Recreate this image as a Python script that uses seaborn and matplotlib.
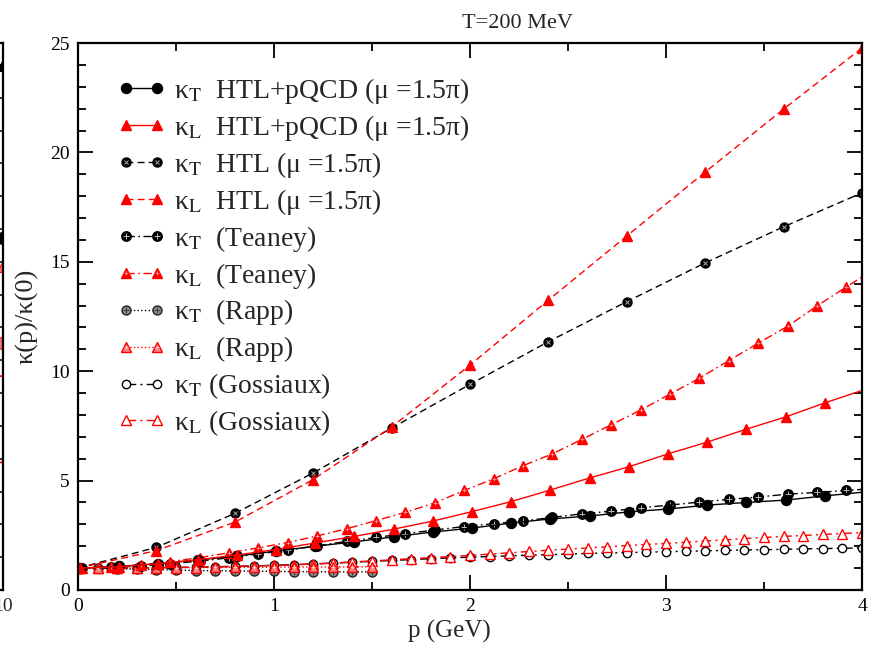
import numpy as np
import pandas as pd
import matplotlib
matplotlib.use("Agg")
import matplotlib.pyplot as plt
import seaborn as sns
from matplotlib.ticker import MultipleLocator

sns.set_theme(style="ticks")
plt.rcParams['font.family'] = ['Liberation Serif', 'DejaVu Serif']
plt.rcParams['mathtext.fontset'] = 'stix'

# ---------------- data ----------------
p_pqcd = [0.01, 0.21, 0.41, 0.61, 0.81, 1.01, 1.21, 1.41, 1.61, 1.81, 2.01,
          2.21, 2.41, 2.61, 2.81, 3.01, 3.21, 3.41, 3.61, 3.81, 4.21]
pqcd_T = [1.0, 1.08, 1.2, 1.37, 1.55, 1.78, 2.0, 2.2, 2.43, 2.65, 2.83,
          3.06, 3.25, 3.38, 3.57, 3.7, 3.88, 4.0, 4.11, 4.3, 4.65]
pqcd_L = [1.0, 1.07, 1.2, 1.38, 1.6, 1.85, 2.15, 2.45, 2.78, 3.15, 3.58,
          4.04, 4.57, 5.12, 5.63, 6.22, 6.76, 7.35, 7.91, 8.55, 9.75]

p_htl = [0.0, 0.4, 0.8, 1.2, 1.6, 2.0, 2.4, 2.8, 3.2, 3.6, 4.0]
htl_T = [1.0, 1.95, 3.5, 5.35, 7.4, 9.4, 11.35, 13.18, 14.95, 16.6, 18.15]
htl_L = [1.0, 1.8, 3.1, 5.05, 7.45, 10.28, 13.25, 16.18, 19.1, 21.98, 24.77]

p_teaney = [0.02, 0.17, 0.32, 0.47, 0.62, 0.77, 0.92, 1.07, 1.22, 1.37, 1.52,
            1.67, 1.82, 1.97, 2.12, 2.27, 2.42, 2.57, 2.72, 2.87, 3.02, 3.17,
            3.32, 3.47, 3.62, 3.77, 3.92, 4.07]
teaney_T = [1.0, 1.03, 1.1, 1.2, 1.32, 1.47, 1.65, 1.82, 2.02, 2.22, 2.4,
            2.58, 2.74, 2.9, 3.03, 3.15, 3.32, 3.48, 3.6, 3.76, 3.88, 4.02,
            4.14, 4.25, 4.38, 4.46, 4.55, 4.64]
teaney_L = [1.0, 1.05, 1.15, 1.3, 1.48, 1.7, 1.93, 2.17, 2.47, 2.8, 3.17,
            3.55, 3.98, 4.55, 5.08, 5.68, 6.22, 6.88, 7.55, 8.22, 8.95, 9.68,
            10.48, 11.28, 12.05, 12.98, 13.85, 14.7]

p_rapp = [0.0, 0.1, 0.2, 0.3, 0.4, 0.5, 0.6, 0.7, 0.8, 0.9, 1.0, 1.1, 1.2,
          1.3, 1.4, 1.5]
rapp_T = [1.0, 0.99, 0.97, 0.95, 0.93, 0.91, 0.89, 0.88, 0.87, 0.86, 0.85,
          0.84, 0.84, 0.83, 0.83, 0.83]
rapp_L = [1.0, 1.0, 1.0, 1.01, 1.01, 1.02, 1.02, 1.03, 1.03, 1.04, 1.04,
          1.05, 1.05, 1.05, 1.06, 1.06]

p_goss = [0.0, 0.1, 0.2, 0.3, 0.4, 0.5, 0.6, 0.7, 0.8, 0.9, 1.0, 1.1, 1.2,
          1.3, 1.4, 1.5, 1.6, 1.7, 1.8, 1.9, 2.0, 2.1, 2.2, 2.3, 2.4, 2.5,
          2.6, 2.7, 2.8, 2.9, 3.0, 3.1, 3.2, 3.3, 3.4, 3.5, 3.6, 3.7, 3.8,
          3.9, 4.0]
goss_T = [1.0, 1.0, 1.0, 1.01, 1.02, 1.03, 1.04, 1.06, 1.08, 1.1, 1.13, 1.16,
          1.19, 1.23, 1.27, 1.31, 1.35, 1.39, 1.43, 1.47, 1.5, 1.53, 1.56,
          1.59, 1.62, 1.64, 1.67, 1.69, 1.71, 1.73, 1.75, 1.77, 1.79, 1.81,
          1.83, 1.84, 1.86, 1.88, 1.89, 1.91, 1.92]
goss_L = [1.0, 1.0, 1.0, 1.01, 1.02, 1.03, 1.04, 1.06, 1.08, 1.1, 1.12, 1.15,
          1.19, 1.23, 1.28, 1.33, 1.38, 1.43, 1.48, 1.53, 1.58, 1.64, 1.7,
          1.76, 1.82, 1.87, 1.92, 1.97, 2.03, 2.08, 2.13, 2.18, 2.24, 2.29,
          2.35, 2.4, 2.45, 2.49, 2.54, 2.58, 2.62]

# partially visible neighbouring panel (only its right edge shows)
left_x = [10.0, 10.0, 10.0, 10.0]
left_y = [24.0, 16.1, 14.8, 11.3]
left_seg_x = [9.6, 10.0]
left_seg_y1 = [9.6, 9.8]
left_seg_y2 = [5.7, 5.85]

labels = [r"κ$_{\rm T}$  HTL+pQCD (μ =1.5π)",
          r"κ$_{\rm L}$  HTL+pQCD (μ =1.5π)",
          r"κ$_{\rm T}$  HTL (μ =1.5π)",
          r"κ$_{\rm L}$  HTL (μ =1.5π)",
          r"κ$_{\rm T}$  (Teaney)",
          r"κ$_{\rm L}$  (Teaney)",
          r"κ$_{\rm T}$  (Rapp)",
          r"κ$_{\rm L}$  (Rapp)",
          r"κ$_{\rm T}$ (Gossiaux)",
          r"κ$_{\rm L}$ (Gossiaux)"]

RED = "#ff0000"
fig = plt.figure(figsize=(8.72, 6.5), dpi=100)
ax = fig.add_axes([78/872, 60/650, 784/872, 547/650])

def series(x, y, ls, marker, ms, fc, ec, color, lw=1.0, mew=1.0):
    sns.lineplot(x=x, y=y, ax=ax, estimator=None, sort=False, color=color,
                 linestyle=ls, linewidth=lw, marker=marker, markersize=ms,
                 markerfacecolor=fc, markeredgecolor=ec, markeredgewidth=mew)
    return ax.lines[-1]

def overlay(x, y, marker, ms, color, mew=0.8):
    sns.lineplot(x=x, y=y, ax=ax, estimator=None, sort=False, color=color,
                 linestyle="none", marker=marker, markersize=ms,
                 markerfacecolor="none", markeredgecolor=color,
                 markeredgewidth=mew)
    return ax.lines[-1]

DASH = (0, (5, 3))
DASHDOT = (0, (6, 2.5, 1.2, 2.5))
GDASH = (0, (7, 3, 1.5, 3))
# Gossiaux (drawn first, underneath)
hg_t = series(p_goss, goss_T, GDASH, "o", 6.0, "white", "black", "black")
hg_l = series(p_goss, goss_L, GDASH, "^", 6.5, "white", RED, RED)
# Rapp
hr_t = series(p_rapp, rapp_T, ":", "o", 6.5, "#8a8a8a", "#222222", "black")
hr_to = overlay(p_rapp, rapp_T, "+", 4.5, "#3a3a3a", 0.7)
hr_l = series(p_rapp, rapp_L, ":", "^", 7.0, "#ff8080", RED, RED)
hr_lo = overlay(p_rapp, rapp_L, "+", 3.5, "#ffd0d0", 0.6)
# Teaney
ht_t = series(p_teaney, teaney_T, DASHDOT, "o", 6.8, "black", "black", "black")
ht_to = overlay(p_teaney, teaney_T, "+", 4.5, "#bbbbbb", 0.7)
ht_l = series(p_teaney, teaney_L, DASHDOT, "^", 7.2, RED, RED, RED)
ht_lo = overlay(p_teaney, teaney_L, "+", 3.5, "#ff9a9a", 0.6)
# HTL
hh_t = series(p_htl, htl_T, DASH, "o", 6.5, "black", "black", "black")
hh_to = overlay(p_htl, htl_T, "x", 3.5, "#aaaaaa", 0.7)
hh_l = series(p_htl, htl_L, DASH, "^", 7.0, RED, RED, RED)
# HTL + pQCD
hp_t = series(p_pqcd, pqcd_T, "-", "o", 7.2, "black", "black", "black")
hp_l = series(p_pqcd, pqcd_L, "-", "^", 7.8, RED, RED, RED)

handles = [hp_t, hp_l, (hh_t, hh_to), hh_l, (ht_t, ht_to), (ht_l, ht_lo),
           (hr_t, hr_to), (hr_l, hr_lo), hg_t, hg_l]

ax.set_xlim(0, 4)
ax.set_ylim(0, 25)
ax.xaxis.set_major_locator(MultipleLocator(1))
ax.xaxis.set_minor_locator(MultipleLocator(0.5))
ax.yaxis.set_major_locator(MultipleLocator(5))
ax.yaxis.set_minor_locator(MultipleLocator(1))
ax.tick_params(which="both", direction="in", top=True, right=True,
               width=1.3, colors="black", labelsize=14, pad=6)
ax.tick_params(which="major", length=11)
ax.tick_params(which="minor", length=6)
for s in ax.spines.values():
    s.set_linewidth(1.6)
    s.set_color("black")
ax.set_xlabel("p (GeV)", fontsize=18, labelpad=3, x=0.474)
ax.set_ylabel("κ(p)/κ(0)", fontsize=19, labelpad=8)
ax.set_title("T=200 MeV", fontsize=16, pad=11, x=0.561)

leg = ax.legend(handles, labels, loc="upper left",
                bbox_to_anchor=(0.05, 0.94), frameon=False, fontsize=20,
                numpoints=2, handlelength=1.75, handletextpad=0.3,
                labelspacing=0.25, borderpad=0, borderaxespad=0)

# neighbouring panel, cut off at the left edge of the figure
ax0 = fig.add_axes([-0.5 + 3/872, 60/650, 0.5, 547/650])
ax0.set_xlim(0, 10)
ax0.set_ylim(0, 25)
sns.lineplot(x=left_x[:1], y=left_y[:1], ax=ax0, linestyle="none", marker="^",
             markersize=9, markerfacecolor="black", markeredgecolor="black",
             color="black")
sns.lineplot(x=left_x[1:2], y=left_y[1:2], ax=ax0, linestyle="none", marker="o",
             markersize=9, markerfacecolor="black", markeredgecolor="black",
             color="black")
sns.lineplot(x=left_x[2:3], y=left_y[2:3], ax=ax0, linestyle="none", marker="^",
             markersize=9, markerfacecolor="#ff7070", markeredgecolor=RED,
             color=RED)
sns.lineplot(x=left_x[3:4], y=left_y[3:4], ax=ax0, linestyle="none", marker="o",
             markersize=9, markerfacecolor="#ff7070", markeredgecolor=RED,
             color=RED)
sns.lineplot(x=left_seg_x, y=left_seg_y1, ax=ax0, color=RED, linewidth=1.2,
             estimator=None)
sns.lineplot(x=left_seg_x, y=left_seg_y2, ax=ax0, color=RED, linewidth=1.2,
             estimator=None)
ax0.xaxis.set_major_locator(MultipleLocator(10))
ax0.yaxis.set_major_locator(MultipleLocator(1.5))
ax0.tick_params(which="both", direction="in", right=True, left=False,
                labelleft=False, width=1.3, length=11, labelsize=14, pad=6)
for s in ax0.spines.values():
    s.set_linewidth(1.6)
    s.set_color("black")
ax0.set_xlabel("")
ax0.set_ylabel("")

fig.savefig("out.png", dpi=100)
